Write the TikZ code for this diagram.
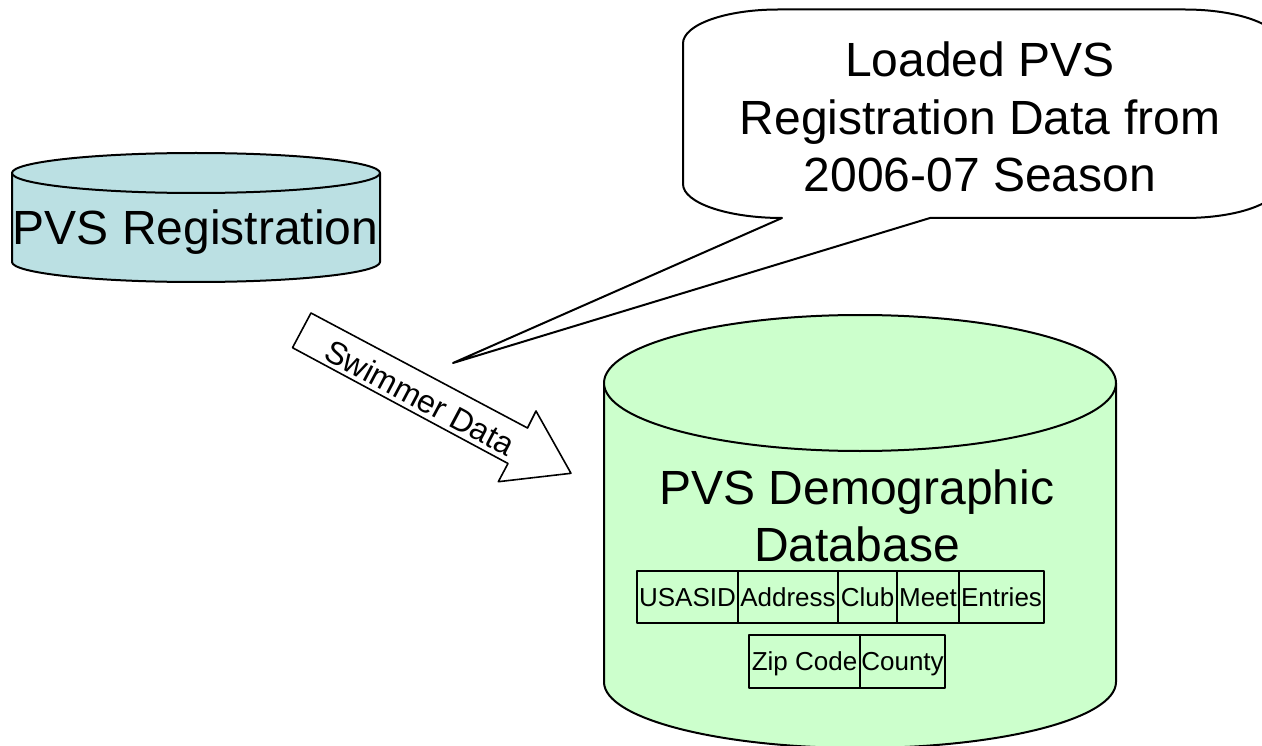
\documentclass[tikz,border=0pt]{standalone}
\usepackage{fontspec}
\setmainfont{Liberation Sans}
\definecolor{regfill}{RGB}{187,224,227}
\definecolor{dbfill}{RGB}{204,255,204}
\begin{document}
\begin{tikzpicture}[x=1pt,y=-1pt, line join=round,
  outl/.style={draw=black, line width=2pt},
  bigtxt/.style={font=\fontsize{48}{57.5}\selectfont, inner sep=0pt, align=center},
  cell/.style={draw=black, line width=2pt, fill=dbfill, font=\fontsize{26}{28}\selectfont,
     inner sep=0pt, text height=18.6pt, text depth=0pt, anchor=north west},
  arrowtxt/.style={font=\fontsize{32}{36}\selectfont, inner sep=0pt}]
\useasboundingbox (0,0) rectangle (1262,746);
\clip (0,0) rectangle (1262,746);

% --- small cylinder: PVS Registration
\fill[regfill] (12,173) -- (12,262) arc[start angle=180, end angle=0, x radius=184, y radius=20] -- (380,173) -- cycle;
\draw[outl] (12,173) -- (12,262) arc[start angle=180, end angle=0, x radius=184, y radius=20] -- (380,173);
\draw[outl, fill=regfill] (196,173) ellipse [x radius=184, y radius=20];
\node[bigtxt, anchor=base] (reg) at (195.5,245) {PVS Registration};

% --- block arrow: Swimmer Data
\draw[line width=1.6pt, fill=white] (311,313) -- (527.5,428) -- (536,411) -- (571,473.3)
   -- (498.3,481.7) -- (508,463.5) -- (292.5,347.7) -- cycle;
\node[arrowtxt, rotate=-28] (swim) at (420,397.5) {Swimmer Data};

% --- callout
\draw[outl, fill=white] (683,184) -- (683,43.5) .. controls (683,24.7) and (725.5,9.5) .. (778,9.5)
   -- (1185,9.5) .. controls (1237.5,9.5) and (1280,24.7) .. (1280,43.5)
   -- (1280,184) .. controls (1280,202.8) and (1237.5,218) .. (1185,218)
   -- (930,218) -- (453,363) -- (782,218) .. controls (727.3,218) and (683,202.8) .. (683,184) -- cycle;
\node[bigtxt, anchor=base] (note) at (980,192) {Loaded PVS\\Registration Data from\\2006-07 Season};

% --- big cylinder: PVS Demographic Database
\fill[dbfill] (604,383) -- (604,682) arc[start angle=180, end angle=0, x radius=256, y radius=66] -- (1116,383) -- cycle;
\draw[outl] (604,383) -- (604,682) arc[start angle=180, end angle=0, x radius=256, y radius=66] -- (1116,383);
\draw[outl, fill=dbfill] (860,383) ellipse [x radius=256, y radius=68];
\node[bigtxt, anchor=base] (db) at (857,561.5) {PVS Demographic\\Database};

% --- fields
\node[cell, minimum width=101pt, minimum height=52pt] (usasid) at (636,570) {USASID};
\node[cell, minimum width=100pt, minimum height=52pt] (address) at (737,570) {Address};
\node[cell, minimum width=59pt, minimum height=52pt] (club) at (837,570) {Club};
\node[cell, minimum width=62pt, minimum height=52pt] (meet) at (896,570) {Meet};
\node[cell, minimum width=85pt, minimum height=52pt] (entries) at (958,570) {Entries};
\node[cell, minimum width=111pt, minimum height=53pt] (zip) at (748,634) {Zip Code};
\node[cell, minimum width=85pt, minimum height=53pt] (county) at (859,634) {County};
\end{tikzpicture}
\end{document}
